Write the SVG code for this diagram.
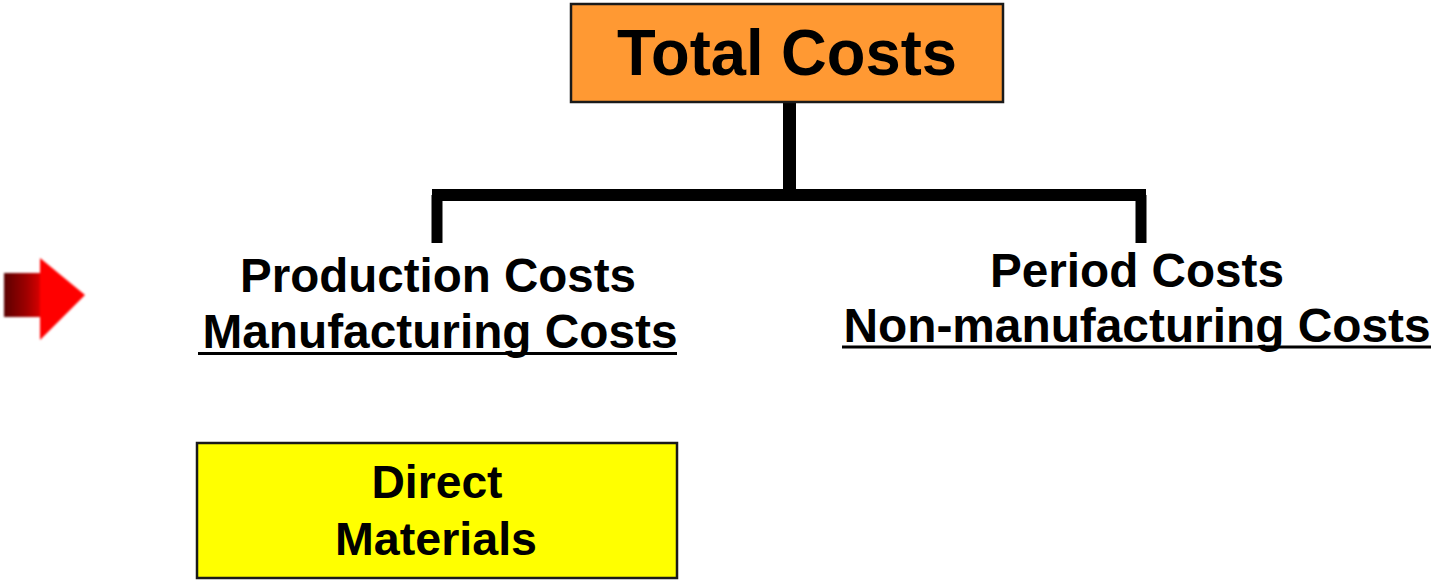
<svg xmlns="http://www.w3.org/2000/svg" width="1439" height="581" viewBox="0 0 1439 581">
<defs>
<style>
text{font-family:"Liberation Sans",Arial,sans-serif;font-weight:bold;fill:#000;text-anchor:middle}
.box{stroke:#1a1a1a;stroke-width:2.5}
.conn{stroke:#000;fill:none;stroke-linecap:butt}
</style>
<linearGradient id="shaft" x1="0" y1="0" x2="1" y2="0">
<stop offset="0" stop-color="#5a0000"/>
<stop offset="0.6" stop-color="#a00000"/>
<stop offset="1" stop-color="#e00000"/>
</linearGradient>
<filter id="soft" x="-10%" y="-10%" width="120%" height="120%"><feGaussianBlur stdDeviation="1"/></filter>
</defs>
<rect width="1439" height="581" fill="#fff"/>
<g id="arrow" filter="url(#soft)">
<rect x="4" y="273" width="38" height="44" fill="url(#shaft)"/>
<polygon points="40,258 85,295 40,340" fill="#ff0000"/>
</g>
<g id="connectors" class="conn">
<line x1="789.5" y1="101" x2="789.5" y2="195" stroke-width="13"/>
<line x1="432" y1="195" x2="1146" y2="195" stroke-width="12"/>
<line x1="437" y1="195" x2="437" y2="243" stroke-width="11"/>
<line x1="1141" y1="195" x2="1141" y2="243" stroke-width="11"/>
</g>
<g id="total-costs">
<rect class="box" x="571" y="4" width="432" height="98" fill="#ff9933"/>
<text x="787" y="75" font-size="64" textLength="340" lengthAdjust="spacingAndGlyphs">Total Costs</text>
</g>
<g id="production-costs">
<text x="438" y="292" font-size="48" textLength="396" lengthAdjust="spacingAndGlyphs">Production Costs</text>
<text x="440" y="348" font-size="48" textLength="475" lengthAdjust="spacingAndGlyphs">Manufacturing Costs</text>
<rect x="198" y="352" width="479" height="3" fill="#000"/>
</g>
<g id="period-costs">
<text x="1137" y="287" font-size="48" textLength="294" lengthAdjust="spacingAndGlyphs">Period Costs</text>
<text x="1137" y="342" font-size="48" textLength="587" lengthAdjust="spacingAndGlyphs">Non-manufacturing Costs</text>
<rect x="842" y="345.5" width="589" height="3" fill="#000"/>
</g>
<g id="direct-materials">
<rect class="box" x="197" y="443" width="480" height="135" fill="#ffff00"/>
<text x="437" y="498" font-size="46" textLength="131" lengthAdjust="spacingAndGlyphs">Direct</text>
<text x="436" y="555" font-size="46" textLength="202" lengthAdjust="spacingAndGlyphs">Materials</text>
</g>
</svg>
